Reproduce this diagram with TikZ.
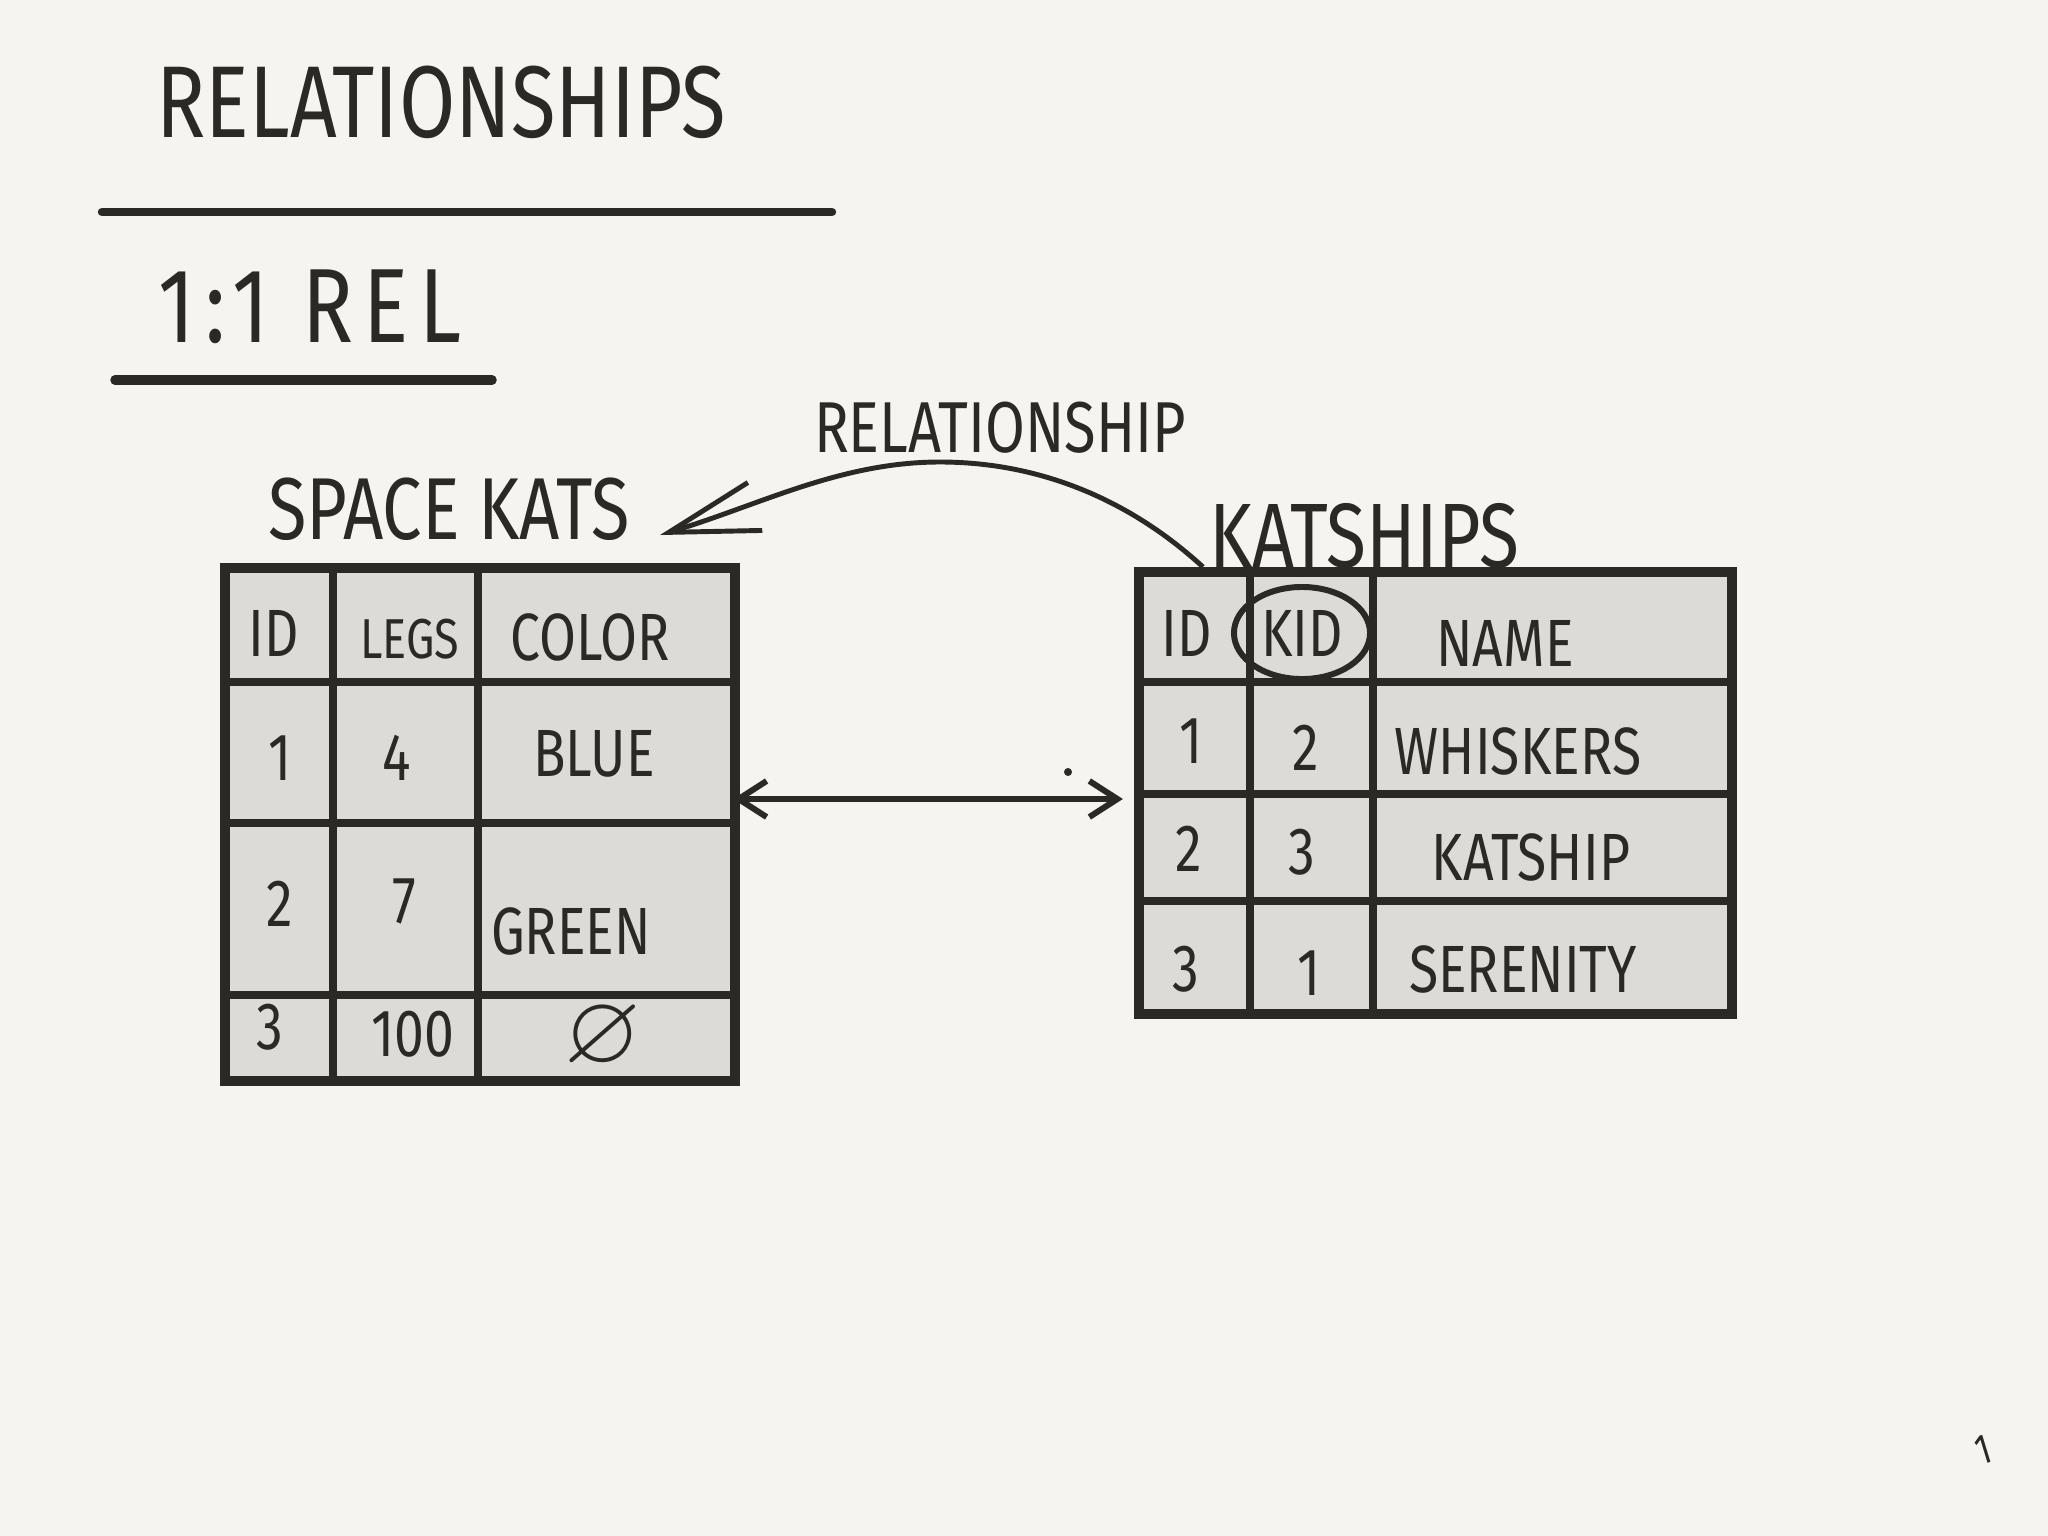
\documentclass[tikz,border=0pt]{standalone}
\usepackage{fontspec}
\setmainfont{Fira Sans}[FakeStretch=0.8]
\usepackage{amssymb}
\usetikzlibrary{positioning,arrows.meta,shapes.geometric}
\definecolor{paper}{HTML}{F5F4F0}
\definecolor{ink}{HTML}{2A2925}
\definecolor{cellgray}{HTML}{DCDBD7}
\tikzset{
  tablebox/.style={rectangle, draw=ink, fill=cellgray, line width=2.8pt, inner sep=0pt},
  gridline/.style={draw=ink, line width=2pt},
  cell/.style={text=ink, inner sep=1pt, font=\fontsize{19}{22}\selectfont},
  hand/.style={text=ink, inner sep=1pt},
  rule/.style={draw=ink, line width=2.4pt, line cap=round},
  both/.style={<->, draw=ink, line width=1.7pt, >={Straight Barb[length=2.8mm,width=3.6mm]}},
  rel/.style={-{Straight Barb[length=9mm,width=5mm]}, draw=ink, line width=1.4pt},
  ring/.style={ellipse, draw=ink, line width=1.7pt, minimum width=13.6mm, minimum height=9.2mm},
}

\begin{document}
\begin{tikzpicture}[x=0.01cm, y=-0.01cm]
\useasboundingbox[fill=paper] (0,0) rectangle (2048,1536);

%Headings
\node[hand, font=\fontsize{29}{33}\selectfont] (title) at (441,102) {RELATIONSHIPS};
\draw[rule] (102,212) -- (832,212);
\node[hand, font=\fontsize{30}{34}\selectfont\addfontfeature{LetterSpace=10}] (subtitle) at (310,307) {1:1 REL};
\draw[rule, line width=2.7pt] (115,380) -- (492,380);

%Tables
\node[tablebox, minimum width=51mm, minimum height=51.3mm] (spacekats) at (480,824.5) {};
\node[tablebox, minimum width=59.3mm, minimum height=44.2mm] (katships) at (1435.5,793) {};
\foreach \x in {333,478} \draw[gridline] (\x,568) -- (\x,1081);
\foreach \y in {682,823,995} \draw[gridline] (225,\y) -- (735,\y);
\foreach \x in {1250,1373} \draw[gridline] (\x,572) -- (\x,1014);
\foreach \y in {682,794,901} \draw[gridline] (1139,\y) -- (1732,\y);

\node[hand, font=\fontsize{25}{28}\selectfont] (spacelbl) at (449,509) {SPACE KATS};
\node[hand, font=\fontsize{26}{30}\selectfont] (shiplbl) at (1364,536) {KATSHIPS};
\node[hand, font=\fontsize{20.5}{24}\selectfont] (rellbl) at (1000,428) {RELATIONSHIP};

%Cells
\node[cell] (sk00) at (274,633) {ID};
\node[cell, font=\fontsize{16}{19}\selectfont] (sk01) at (410,639) {LEGS};
\node[cell] (sk02) at (590,637) {COLOR};
\node[cell] (sk10) at (280,758) {1};
\node[cell] (sk11) at (397,758) {4};
\node[cell] (sk12) at (594,754) {BLUE};
\node[cell] (sk20) at (280,904) {2};
\node[cell] (sk21) at (404,901) {7};
\node[cell] (sk22) at (571,931) {GREEN};
\node[cell] (sk30) at (270,1027) {3};
\node[cell] (sk31) at (413,1034) {100};
\node[cell, font=\fontsize{28}{30}\selectfont] (sk32) at (603,1038) {$\varnothing$};

\node[cell] (ks00) at (1187,633) {ID};
\node[cell] (ks01) at (1302,633) {KID};
\node[cell] (ks02) at (1505,643) {NAME};
\node[cell] (ks10) at (1191,741) {1};
\node[cell] (ks11) at (1306,748) {2};
\node[cell] (ks12) at (1518,751) {WHISKERS};
\node[cell] (ks20) at (1189,849) {2};
\node[cell] (ks21) at (1302,852) {3};
\node[cell] (ks22) at (1531,857) {KATSHIP};
\node[cell] (ks30) at (1186,969) {3};
\node[cell] (ks31) at (1309,973) {1};
\node[cell] (ks32) at (1523,969) {SERENITY};
\node[ring] (kidring) at (ks01) {};

%Lines
\coordinate (reltip) at (660,535);
\coordinate (bothend) at ([xshift=-1.1mm,yshift=-0.6mm]katships.west);
\draw[rel] ([xshift=6.9mm]katships.north west) .. controls (1130,500) and (1040,462) .. (940,462)
  .. controls (840,462) and (760,505) .. (reltip);
\draw[both, shorten <=-0.7mm] (spacekats.east |- bothend) -- (bothend);

%Marks
\fill[ink] (1068,772) circle (0.4mm);
\node[hand, font=\fontsize{12}{14}\selectfont, rotate=17] (pagenum) at (1983,1450) {1};
\end{tikzpicture}
\end{document}
